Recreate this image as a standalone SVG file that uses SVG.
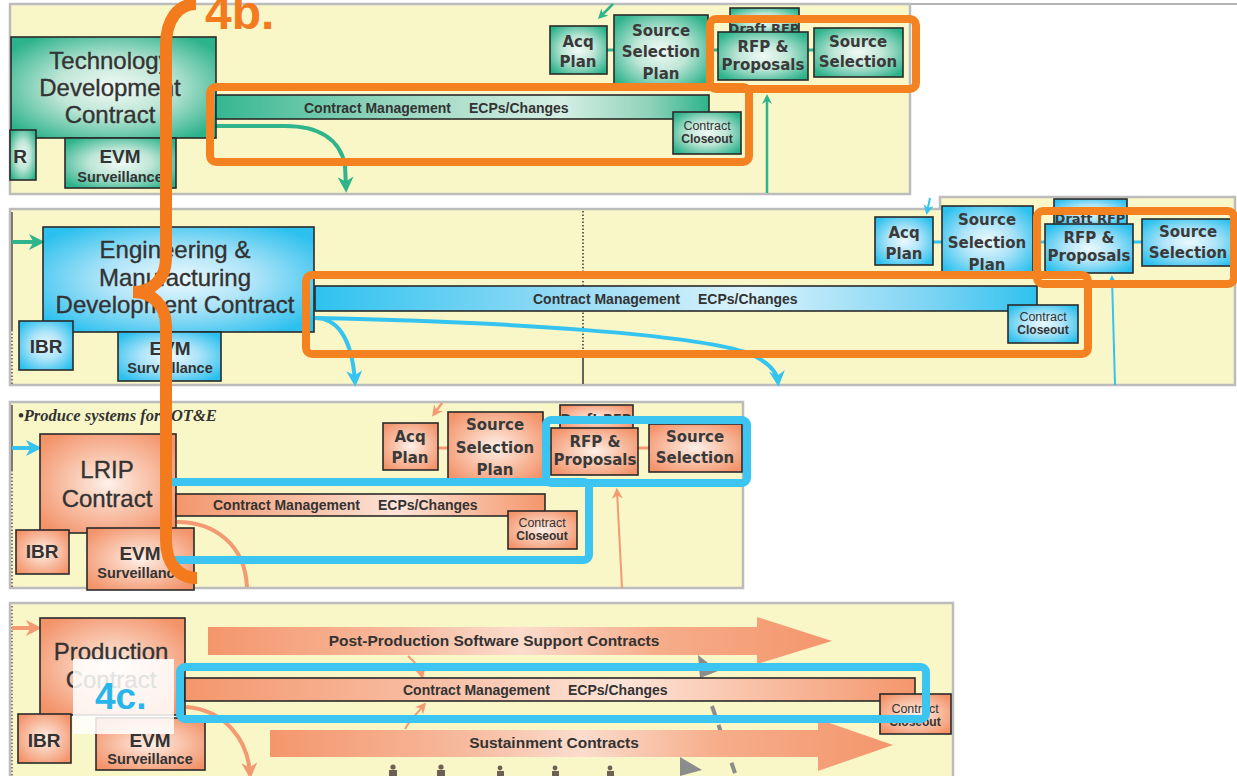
<svg xmlns="http://www.w3.org/2000/svg" width="1237" height="776" viewBox="0 0 1237 776">
<defs>
<radialGradient id="gT" cx="50%" cy="50%" r="62%"><stop offset="0" stop-color="#f1faf6"/><stop offset="0.45" stop-color="#bfe6d7"/><stop offset="1" stop-color="#2db38b"/></radialGradient>
<radialGradient id="gB" cx="50%" cy="50%" r="62%"><stop offset="0" stop-color="#ecf9fe"/><stop offset="0.45" stop-color="#aee4f8"/><stop offset="1" stop-color="#2cc0ee"/></radialGradient>
<radialGradient id="gS" cx="50%" cy="50%" r="62%"><stop offset="0" stop-color="#fef0e9"/><stop offset="0.45" stop-color="#f9c6ae"/><stop offset="1" stop-color="#f3936a"/></radialGradient>
<linearGradient id="lT" x1="0" y1="0" x2="1" y2="0"><stop offset="0" stop-color="#35b790"/><stop offset="0.35" stop-color="#95d5be"/><stop offset="0.7" stop-color="#d6efe5"/><stop offset="0.88" stop-color="#8fd2ba"/><stop offset="1" stop-color="#2db38b"/></linearGradient>
<linearGradient id="lB" x1="0" y1="0" x2="1" y2="0"><stop offset="0" stop-color="#2fc2ef"/><stop offset="0.35" stop-color="#95dbf5"/><stop offset="0.6" stop-color="#dcf3fc"/><stop offset="0.85" stop-color="#7dd4f3"/><stop offset="1" stop-color="#2fc2ef"/></linearGradient>
<linearGradient id="lS" x1="0" y1="0" x2="1" y2="0"><stop offset="0" stop-color="#f4966c"/><stop offset="0.35" stop-color="#f8c0a6"/><stop offset="0.6" stop-color="#fde4d8"/><stop offset="0.85" stop-color="#f7b393"/><stop offset="1" stop-color="#f4966c"/></linearGradient>
<linearGradient id="lA" x1="0" y1="0" x2="1" y2="0"><stop offset="0" stop-color="#f4966c"/><stop offset="0.3" stop-color="#f7b89b"/><stop offset="0.5" stop-color="#fbdccd"/><stop offset="0.72" stop-color="#f6ad8a"/><stop offset="1" stop-color="#f4966c"/></linearGradient>
<marker id="aT" viewBox="0 0 10 10" refX="7" refY="5" markerUnits="userSpaceOnUse" markerWidth="16" markerHeight="16" orient="auto"><path d="M0,0 L10,5 L0,10 L3,5 z" fill="#2fb48c"/></marker>
<marker id="aB" viewBox="0 0 10 10" refX="7" refY="5" markerUnits="userSpaceOnUse" markerWidth="16" markerHeight="16" orient="auto"><path d="M0,0 L10,5 L0,10 L3,5 z" fill="#35c3ef"/></marker>
<marker id="aS" viewBox="0 0 10 10" refX="7" refY="5" markerUnits="userSpaceOnUse" markerWidth="16" markerHeight="16" orient="auto"><path d="M0,0 L10,5 L0,10 L3,5 z" fill="#f49a72"/></marker>
<marker id="aTs" viewBox="0 0 10 10" refX="7" refY="5" markerUnits="userSpaceOnUse" markerWidth="10" markerHeight="10" orient="auto"><path d="M0,0 L10,5 L0,10 L3,5 z" fill="#2fb48c"/></marker>
<marker id="aBs" viewBox="0 0 10 10" refX="7" refY="5" markerUnits="userSpaceOnUse" markerWidth="10" markerHeight="10" orient="auto"><path d="M0,0 L10,5 L0,10 L3,5 z" fill="#35c3ef"/></marker>
<marker id="aSs" viewBox="0 0 10 10" refX="7" refY="5" markerUnits="userSpaceOnUse" markerWidth="11" markerHeight="11" orient="auto"><path d="M0,0 L10,5 L0,10 L3,5 z" fill="#f49a72"/></marker>
</defs>
<style>
.panel{fill:#f9f7c8;stroke:#bcbcbc;stroke-width:2.5}
.bx{stroke:#2a2a2a;stroke-width:1.6}
.t{fill:url(#gT)} .b{fill:url(#gB)} .s{fill:url(#gS)}
.big{font-family:"Liberation Sans",Arial,sans-serif;font-size:24px;fill:#333;stroke:#333;stroke-width:0.35;text-anchor:middle}
.sm{font-family:"DejaVu Sans",Verdana,sans-serif;font-weight:bold;font-size:15px;fill:#3a3a3a;text-anchor:middle}
.dr{font-family:"DejaVu Sans",Verdana,sans-serif;font-weight:bold;font-size:13px;fill:#3a3a3a;text-anchor:middle}
.evm{font-family:"Liberation Sans",Arial,sans-serif;font-weight:bold;font-size:19px;fill:#333;text-anchor:middle}
.sv{font-family:"Liberation Sans",Arial,sans-serif;font-weight:bold;font-size:14.5px;fill:#333;text-anchor:middle}
.bt{font-family:"Liberation Sans",Arial,sans-serif;font-weight:bold;font-size:14px;fill:#333}
.c1{font-family:"Liberation Sans",Arial,sans-serif;font-size:12.5px;fill:#333;text-anchor:middle}
.c2{font-family:"Liberation Sans",Arial,sans-serif;font-weight:bold;font-size:12px;fill:#333;text-anchor:middle}
.arr{font-family:"Liberation Sans",Arial,sans-serif;font-weight:bold;font-size:15.5px;fill:#333;text-anchor:middle}
.hO{fill:none;stroke:#f58220;stroke-width:8}
.hB{fill:none;stroke:#3cc5f1;stroke-width:8}
.lnT{fill:none;stroke:#2fb48c}
.lnB{fill:none;stroke:#35c3ef}
.lnS{fill:none;stroke:#f49a72}
</style>

<g id="panels">
<line x1="10" y1="4" x2="1237" y2="4" stroke="#9a9a9a" stroke-width="1.5"/>
<rect class="panel" x="10" y="4" width="900" height="190"/>
<path class="panel" d="M10,209 H940 V197 H1235 V385 H10 Z"/>
<rect class="panel" x="10" y="402" width="733" height="186"/>
<rect class="panel" x="10" y="603" width="943" height="180"/>
<line x1="12" y1="212" x2="12" y2="330" stroke="#555" stroke-width="1.5"/>
<line x1="12" y1="330" x2="12" y2="384" stroke="#555" stroke-width="1.5" stroke-dasharray="1.5 2"/>
<line x1="12" y1="405" x2="12" y2="470" stroke="#555" stroke-width="1.5"/>
<line x1="12" y1="470" x2="12" y2="587" stroke="#555" stroke-width="1.5" stroke-dasharray="1.5 2"/>
<line x1="12" y1="606" x2="12" y2="776" stroke="#666" stroke-width="1.5" stroke-dasharray="1.5 2"/>
<line x1="583" y1="211" x2="583" y2="350" stroke="#333" stroke-width="1.5" stroke-dasharray="1.5 2"/>
<line x1="583" y1="350" x2="583" y2="384" stroke="#333" stroke-width="1.5"/>
<text x="18" y="421" font-family="'Liberation Serif','Times New Roman',serif" font-style="italic" font-weight="bold" font-size="16.5" fill="#333">•Produce systems for IOT&amp;E</text>
</g>

<g id="connectors">
<line class="lnT" x1="607" y1="50" x2="614" y2="50" stroke-width="3"/>
<line class="lnT" x1="708" y1="50" x2="718" y2="50" stroke-width="3"/>
<line class="lnT" x1="808" y1="50" x2="814" y2="50" stroke-width="3"/>
<path class="lnT" d="M613,4 L600,17" stroke-width="2.5" marker-end="url(#aTs)"/>
<path class="lnT" d="M767,193 L767,97" stroke-width="2.5" marker-end="url(#aTs)"/>
<path class="lnT" d="M216,126 L285,126 C320,126 340,140 345,165 L346,188" stroke-width="4" marker-end="url(#aT)"/>

<path class="lnT" d="M12,242 L40,242" stroke-width="4" marker-end="url(#aT)"/>
<line class="lnB" x1="933" y1="242" x2="942" y2="242" stroke-width="3"/>
<line class="lnB" x1="1033" y1="242" x2="1045" y2="242" stroke-width="3"/>
<line class="lnB" x1="1133" y1="242" x2="1142" y2="242" stroke-width="3"/>
<path class="lnB" d="M930,198 L927,212" stroke-width="2" marker-end="url(#aBs)"/>
<path class="lnB" d="M1115,385 L1112,278" stroke-width="2" marker-end="url(#aBs)"/>
<path class="lnB" d="M315,318 C336,318 352,336 355,382" stroke-width="4" marker-end="url(#aB)"/>
<path class="lnB" d="M315,318 C520,322 690,335 745,352 C768,361 777,372 778,382" stroke-width="4" marker-end="url(#aB)"/>

<path class="lnB" d="M12,448 L37,448" stroke-width="4" marker-end="url(#aB)"/>
<line class="lnS" x1="438" y1="448" x2="448" y2="448" stroke-width="3"/>
<line class="lnS" x1="543" y1="448" x2="551" y2="448" stroke-width="3"/>
<line class="lnS" x1="638" y1="448" x2="649" y2="448" stroke-width="3"/>
<path class="lnS" d="M442,403 L434,414" stroke-width="2.5" marker-end="url(#aSs)"/>
<path class="lnS" d="M622,588 L617,491" stroke-width="2" marker-end="url(#aSs)"/>
<path class="lnS" d="M177,522 C215,522 245,545 247,587" stroke-width="4"/>

<path class="lnS" d="M12,628 L37,628" stroke-width="4" marker-end="url(#aS)"/>
<path class="lnS" d="M186,707 C225,710 248,740 250,774" stroke-width="4" marker-end="url(#aS)"/>
<path class="lnS" d="M408,656 C415,662 420,668 422,676" stroke-width="2" marker-end="url(#aSs)"/>
<path class="lnS" d="M405,729 C410,720 418,712 424,705" stroke-width="2" marker-end="url(#aSs)"/>
<path d="M712,706 L736,776" fill="none" stroke="#8c8c8c" stroke-width="4" stroke-dasharray="11 9"/>
<polygon points="698,655 718,671 700,678" fill="#8c8c8c"/>
<polygon points="680,757 702,770 680,776" fill="#8c8c8c"/>
</g>

<g id="tdc"><rect class="bx t" x="11" y="37" width="205" height="101"/>
<text class="big" x="110" y="69">Technology</text><text class="big" x="110" y="96">Development</text><text class="big" x="110" y="123">Contract</text></g>
<g id="ibr1"><rect class="bx t" x="10" y="130" width="26" height="50"/><text class="evm" x="20" y="163">R</text></g>
<g id="evm1"><rect class="bx t" x="65" y="138" width="111" height="50"/><text class="evm" x="120" y="163">EVM</text><text class="sv" x="120" y="182">Surveillance</text></g>
<g id="bar1"><rect class="bx" x="216" y="95" width="493" height="24" fill="url(#lT)"/>
<text class="bt" x="304" y="113">Contract Management<tspan dx="18">ECPs/Changes</tspan></text></g>
<g id="close1"><rect class="bx t" x="673" y="112" width="68" height="42"/><text class="c1" x="707" y="130">Contract</text><text class="c2" x="707" y="143">Closeout</text></g>
<g id="acq1"><rect class="bx t" x="550" y="26" width="57" height="48"/><text class="sm" x="578" y="47">Acq</text><text class="sm" x="578" y="67">Plan</text></g>
<g id="ssp1"><rect class="bx t" x="614" y="15" width="94" height="73"/><text class="sm" x="661" y="36">Source</text><text class="sm" x="661" y="57">Selection</text><text class="sm" x="661" y="79">Plan</text></g>
<g id="draft1"><rect class="bx t" x="730" y="8" width="69" height="26"/><text class="dr" x="764" y="33">Draft RFP</text></g>
<g id="rfp1"><rect class="bx t" x="718" y="32" width="90" height="48"/><text class="sm" x="763" y="52">RFP &amp;</text><text class="sm" x="763" y="70">Proposals</text></g>
<g id="ss1"><rect class="bx t" x="814" y="28" width="89" height="49"/><text class="sm" x="858" y="47">Source</text><text class="sm" x="858" y="67">Selection</text></g>

<g id="emd"><rect class="bx b" x="43" y="227" width="271" height="105"/>
<text class="big" x="175" y="258">Engineering &amp;</text><text class="big" x="175" y="286">Manufacturing</text><text class="big" x="175" y="313">Development Contract</text></g>
<g id="ibr2"><rect class="bx b" x="19" y="321" width="54" height="49"/><text class="evm" x="46" y="353">IBR</text></g>
<g id="evm2"><rect class="bx b" x="118" y="332" width="103" height="49"/><text class="evm" x="170" y="355">EVM</text><text class="sv" x="170" y="373">Surveillance</text></g>
<g id="bar2"><rect class="bx" x="315" y="286" width="722" height="25" fill="url(#lB)"/>
<text class="bt" x="533" y="304">Contract Management<tspan dx="18">ECPs/Changes</tspan></text></g>
<g id="close2"><rect class="bx b" x="1008" y="305" width="70" height="38"/><text class="c1" x="1043" y="321">Contract</text><text class="c2" x="1043" y="334">Closeout</text></g>
<g id="acq2"><rect class="bx b" x="875" y="217" width="58" height="48"/><text class="sm" x="904" y="238">Acq</text><text class="sm" x="904" y="259">Plan</text></g>
<g id="ssp2"><rect class="bx b" x="942" y="206" width="91" height="70"/><text class="sm" x="987" y="225">Source</text><text class="sm" x="987" y="248">Selection</text><text class="sm" x="987" y="270">Plan</text></g>
<g id="draft2"><rect class="bx b" x="1054" y="199" width="73" height="27"/><text class="dr" x="1090" y="223">Draft RFP</text></g>
<g id="rfp2"><rect class="bx b" x="1045" y="224" width="88" height="49"/><text class="sm" x="1089" y="243">RFP &amp;</text><text class="sm" x="1089" y="261">Proposals</text></g>
<g id="ss2"><rect class="bx b" x="1142" y="219" width="95" height="47"/><text class="sm" x="1188" y="237">Source</text><text class="sm" x="1188" y="258">Selection</text></g>

<g id="lrip"><rect class="bx s" x="40" y="434" width="136" height="99"/><text class="big" x="107" y="478">LRIP</text><text class="big" x="107" y="507">Contract</text></g>
<g id="ibr3"><rect class="bx s" x="16" y="530" width="53" height="44"/><text class="evm" x="42" y="558">IBR</text></g>
<g id="evm3"><rect class="bx s" x="87" y="528" width="107" height="62"/><text class="evm" x="140" y="560">EVM</text><text class="sv" x="140" y="578">Surveillance</text></g>
<g id="bar3"><rect class="bx" x="176" y="494" width="369" height="22" fill="url(#lS)"/>
<text class="bt" x="213" y="510">Contract Management<tspan dx="18">ECPs/Changes</tspan></text></g>
<g id="close3"><rect class="bx s" x="508" y="511" width="69" height="38"/><text class="c1" x="542" y="527">Contract</text><text class="c2" x="542" y="540">Closeout</text></g>
<g id="acq3"><rect class="bx s" x="383" y="423" width="55" height="47"/><text class="sm" x="410" y="442">Acq</text><text class="sm" x="410" y="463">Plan</text></g>
<g id="ssp3"><rect class="bx s" x="448" y="412" width="95" height="70"/><text class="sm" x="495" y="430">Source</text><text class="sm" x="495" y="453">Selection</text><text class="sm" x="495" y="475">Plan</text></g>
<g id="draft3"><rect class="bx s" x="560" y="405" width="73" height="26"/><text class="dr" x="596" y="423">Draft RFP</text></g>
<g id="rfp3"><rect class="bx s" x="551" y="428" width="87" height="47"/><text class="sm" x="595" y="447">RFP &amp;</text><text class="sm" x="595" y="465">Proposals</text></g>
<g id="ss3"><rect class="bx s" x="649" y="424" width="93" height="48"/><text class="sm" x="695" y="442">Source</text><text class="sm" x="695" y="463">Selection</text></g>

<g id="prod"><rect class="bx s" x="40" y="618" width="145" height="97"/><text class="big" x="111" y="660">Production</text><text class="big" x="111" y="688">Contract</text></g>
<g id="ibr4"><rect class="bx s" x="18" y="714" width="53" height="49"/><text class="evm" x="44" y="747">IBR</text></g>
<g id="evm4"><rect class="bx s" x="96" y="718" width="109" height="52"/><text class="evm" x="150" y="747">EVM</text><text class="sv" x="150" y="764">Surveillance</text></g>
<g id="postprod"><polygon points="208,627 757,627 757,617 832,641 757,664 757,655 208,655" fill="url(#lA)"/><text class="arr" x="494" y="646">Post-Production Software Support Contracts</text></g>
<g id="sustain"><polygon points="270,730 818,730 818,719 893,745 818,771 818,757 270,757" fill="url(#lA)"/><text class="arr" x="554" y="748">Sustainment Contracts</text></g>
<g id="bar4"><rect class="bx" x="185" y="678" width="730" height="23" fill="url(#lS)"/>
<text class="bt" x="403" y="695">Contract Management<tspan dx="18">ECPs/Changes</tspan></text></g>
<g id="close4"><rect class="bx s" x="880" y="694" width="71" height="40"/><text class="c1" x="915" y="713">Contract</text><text class="c2" x="915" y="726">Closeout</text></g>
<g id="people" fill="#6e5f55">
<circle cx="393" cy="767" r="2.6"/><rect x="389" y="770" width="8" height="7"/>
<circle cx="441" cy="767" r="2.6"/><rect x="437" y="770" width="8" height="7"/>
<circle cx="500" cy="768" r="2.4"/><rect x="497" y="771" width="7" height="6"/>
<circle cx="555" cy="768" r="2.4"/><rect x="552" y="771" width="7" height="6"/>
<circle cx="610" cy="768" r="2.4"/><rect x="607" y="771" width="7" height="6"/>
</g>

<g id="highlight-4c">
<rect class="hB" x="546" y="420" width="201" height="63" rx="5"/>
<rect class="hB" x="168" y="482" width="421" height="78" rx="5"/>
<rect x="73" y="659" width="101" height="75" fill="#ffffff" fill-opacity="0.86"/>
<rect class="hB" x="180" y="667" width="746" height="52" rx="5"/>
<text x="95" y="709" font-family="'Liberation Sans',Arial,sans-serif" font-weight="bold" font-size="37" fill="#2ab5ea">4c.</text>
</g>
<g id="highlight-4b">
<rect class="hO" x="210" y="87" width="539" height="75" rx="6"/>
<rect class="hO" x="710" y="19" width="206" height="70" rx="6"/>
<rect class="hO" x="306" y="275" width="782" height="79" rx="6"/>
<rect class="hO" x="1037" y="211" width="197" height="73" rx="6"/>
<path d="M196,4 C178,4 166,20 166,45 L166,258 C166,280 151,292 133,292 C151,292 166,304 166,326 L166,540 C166,563 178,578 197,578" fill="none" stroke="#f47a1e" stroke-width="12" stroke-linecap="butt"/>
<text x="205" y="29" font-family="'Liberation Sans',Arial,sans-serif" font-weight="bold" font-size="48" fill="#f47a1e">4b.</text>
</g>
</svg>
